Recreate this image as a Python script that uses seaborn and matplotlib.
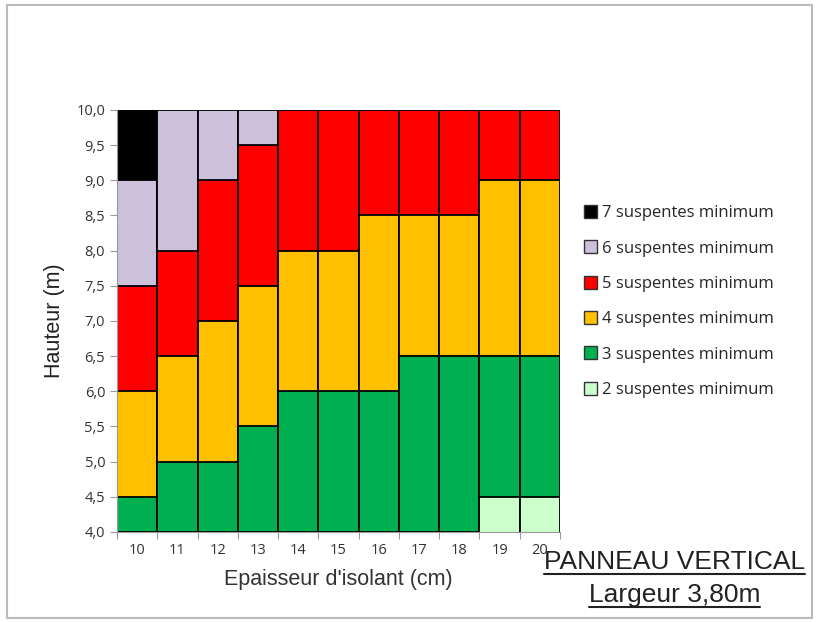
import matplotlib
matplotlib.use("Agg")
import matplotlib.pyplot as plt
from matplotlib.patches import Patch, Rectangle
from matplotlib.lines import Line2D
import seaborn as sns
import pandas as pd

# Insulation thickness (cm)
thickness = ["10", "11", "12", "13", "14", "15", "16", "17", "18", "19", "20"]

# Upper height limit (m) of each hanger-count zone, per thickness
top_2 = [4.0, 4.0, 4.0, 4.0, 4.0, 4.0, 4.0, 4.0, 4.0, 4.5, 4.5]
top_3 = [4.5, 5.0, 5.0, 5.5, 6.0, 6.0, 6.0, 6.5, 6.5, 6.5, 6.5]
top_4 = [6.0, 6.5, 7.0, 7.5, 8.0, 8.0, 8.5, 8.5, 8.5, 9.0, 9.0]
top_5 = [7.5, 8.0, 9.0, 9.5, 10.0, 10.0, 10.0, 10.0, 10.0, 10.0, 10.0]
top_6 = [9.0, 10.0, 10.0, 10.0, 10.0, 10.0, 10.0, 10.0, 10.0, 10.0, 10.0]
top_7 = [10.0, 10.0, 10.0, 10.0, 10.0, 10.0, 10.0, 10.0, 10.0, 10.0, 10.0]

labels = ["7 suspentes minimum", "6 suspentes minimum", "5 suspentes minimum",
          "4 suspentes minimum", "3 suspentes minimum", "2 suspentes minimum"]
colors = ["#000000", "#CCC0DA", "#FF0000", "#FFC000", "#00B050", "#CCFFCC"]
tops = [top_7, top_6, top_5, top_4, top_3, top_2]

y_ticks = [4.0 + 0.5 * i for i in range(13)]

df = pd.DataFrame({"thickness": thickness})
for lab, t in zip(labels, tops):
    df[lab] = t

sns.set_style("white")
plt.rcParams["font.family"] = ["Open Sans", "DejaVu Sans"]

fig = plt.figure(figsize=(8.19, 6.22), dpi=100)
ax = fig.add_axes([0.1429, 0.1447, 0.5409, 0.6785])

# Draw zones from the highest down; each lower zone covers the one above it
for lab, col in zip(labels, colors):
    sns.barplot(data=df, x="thickness", y=lab, color=col, width=1.0,
                saturation=1, edgecolor="black", linewidth=1.3,
                errorbar=None, ax=ax)

ax.set_xlim(-0.5, len(thickness) - 0.5)
ax.set_ylim(4.0, 10.0)
ax.set_yticks(y_ticks)
ax.set_yticklabels([f"{v:.1f}".replace(".", ",") for v in y_ticks])
ax.set_xticks(range(len(thickness)))
ax.set_xticklabels(thickness)
ax.set_xticks([i - 0.5 for i in range(len(thickness) + 1)], minor=True)
ax.tick_params(axis="x", which="major", length=0, pad=8, labelsize=10.5,
               colors="#333333")
ax.tick_params(axis="x", which="minor", length=5, width=0.8, color="#999999",
               direction="out", bottom=True)
ax.tick_params(axis="y", length=5, width=0.8, color="#999999", direction="out",
               left=True, labelsize=10.5, labelcolor="#333333")

for s in ["top", "right"]:
    ax.spines[s].set_visible(False)
for s in ["left", "bottom"]:
    ax.spines[s].set_color("#999999")
    ax.spines[s].set_linewidth(0.8)

ax.set_xlabel("Epaisseur d'isolant (cm)", fontsize=15.5, family="Liberation Sans",
              color="#333333", labelpad=8)
ax.set_ylabel("Hauteur (m)", fontsize=15.5, family="Liberation Sans",
              color="#222222", labelpad=8)

handles = [Patch(facecolor=c, edgecolor="#333333", linewidth=1.0) for c in colors]
fig.legend(handles, labels, loc="upper left", bbox_to_anchor=(0.705, 0.681),
           frameon=False, fontsize=12, handlelength=0.8, handleheight=0.8,
           handletextpad=0.3, labelspacing=1.15, borderaxespad=0)

# Figure border
fig.patches.append(Rectangle((0.008, 0.006), 0.983, 0.986, transform=fig.transFigure,
                             fill=False, edgecolor="#BBBBBB", linewidth=1.5))

t1 = fig.text(0.8236, 0.0852, "PANNEAU VERTICAL", ha="center", va="baseline",
              fontsize=19, family="Liberation Sans", color="#222222")
t2 = fig.text(0.8236, 0.0322, "Largeur 3,80m", ha="center", va="baseline",
              fontsize=19, family="Liberation Sans", color="#222222")

# Underline the panel caption
fig.canvas.draw()
renderer = fig.canvas.get_renderer()
W, H = fig.bbox.width, fig.bbox.height
for t in (t1, t2):
    bb = t.get_window_extent(renderer)
    _, base_y = fig.transFigure.transform(t.get_position())
    y = (base_y - 5) / H
    fig.add_artist(Line2D([bb.x0 / W, bb.x1 / W], [y, y], transform=fig.transFigure,
                          color="#222222", linewidth=1.5))

fig.savefig("out.png", dpi=100)
